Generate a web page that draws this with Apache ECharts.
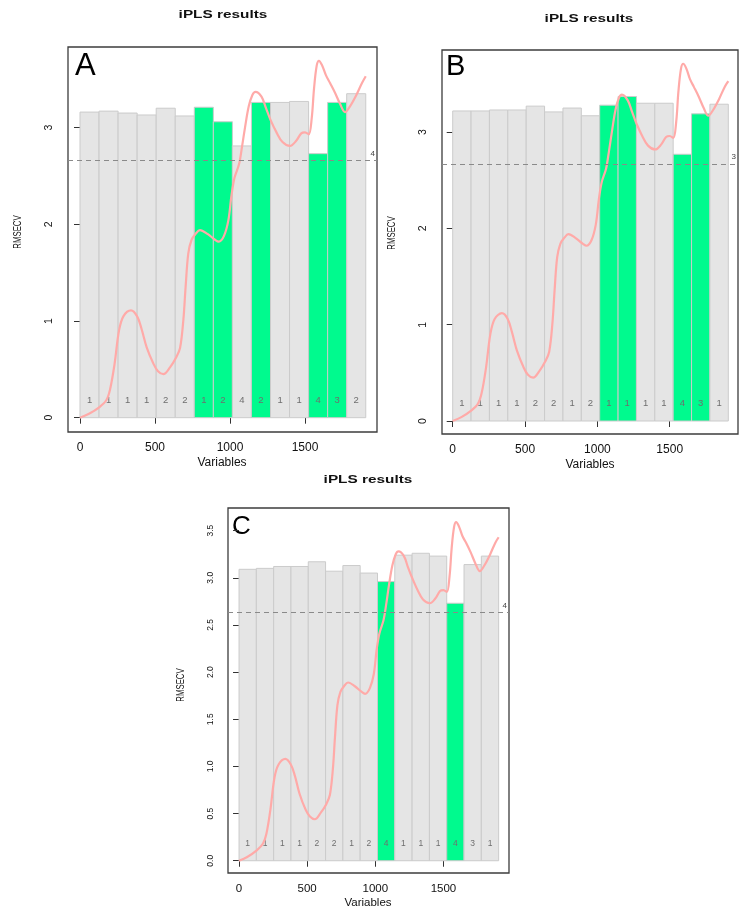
<!DOCTYPE html>
<html>
<head>
<meta charset="utf-8">
<script src="https://cdn.jsdelivr.net/npm/echarts@6/dist/echarts.min.js"></script>
<style>html,body{margin:0;padding:0;background:#fff}#c{width:750px;height:915px}</style>
</head>
<body>
<div id="c"></div>
<script>
// ---- data ----
var intervalStarts = [0,127,254,381,508,635,762,889,1016,1143,1270,1397,1524,1651,1778];
var intervalEnds   = [127,254,381,508,635,762,889,1016,1143,1270,1397,1524,1651,1778,1905];

var rmsecvA = [3.16,3.17,3.15,3.13,3.20,3.12,3.21,3.06,2.81,3.26,3.26,3.27,2.73,3.26,3.35];
var lvA     = [1,1,1,1,2,2,1,2,4,2,1,1,4,3,2];
var selA    = [7,8,10,13,14];
var globalA = 2.66, globalLvA = "4";

var rmsecvB = [3.22,3.22,3.23,3.23,3.27,3.21,3.25,3.17,3.28,3.37,3.30,3.30,2.77,3.19,3.29];
var lvB     = [1,1,1,1,2,2,1,2,1,1,1,1,4,3,1];
var selB    = [9,10,13,14];
var globalB = 2.67, globalLvB = "3";

var rmsecvC = [3.09,3.10,3.12,3.12,3.17,3.07,3.13,3.05,2.96,3.24,3.26,3.23,2.73,3.14,3.23];
var lvC     = [1,1,1,1,2,2,1,2,4,1,1,1,4,3,1];
var selC    = [9,13];
var globalC = 2.63, globalLvC = "4";

var curveX = [0,60,130,175,200,230,260,290,340,380,410,444,489,520,556,600,640,667,689,704,722,744,770,800,850,900,925,960,989,1010,1030,1060,1080,1100,1125,1150,1170,1210,1240,1270,1310,1350,1400,1440,1475,1500,1525,1545,1560,1578,1593,1615,1640,1667,1700,1735,1767,1800,1840,1880,1905];
var curveA = [0.00,0.04,0.11,0.18,0.29,0.55,0.90,1.05,1.11,1.05,0.92,0.73,0.56,0.48,0.45,0.52,0.62,0.72,1.01,1.35,1.70,1.84,1.90,1.94,1.90,1.84,1.82,1.88,2.04,2.30,2.48,2.62,2.80,3.00,3.22,3.34,3.37,3.32,3.20,3.08,2.95,2.85,2.81,2.86,2.94,2.95,2.93,3.10,3.40,3.64,3.69,3.64,3.54,3.46,3.36,3.24,3.16,3.22,3.33,3.46,3.53];
var curveB = [0.00,0.04,0.11,0.18,0.29,0.55,0.90,1.06,1.12,1.06,0.92,0.73,0.56,0.48,0.45,0.52,0.62,0.72,1.01,1.35,1.70,1.84,1.90,1.94,1.90,1.84,1.82,1.88,2.04,2.30,2.48,2.62,2.80,3.00,3.23,3.36,3.39,3.33,3.21,3.09,2.96,2.86,2.82,2.87,2.95,2.96,2.94,3.11,3.42,3.66,3.71,3.66,3.55,3.47,3.37,3.25,3.17,3.23,3.34,3.47,3.53];
var curveC = [0.00,0.04,0.11,0.18,0.28,0.54,0.88,1.02,1.08,1.02,0.90,0.71,0.54,0.47,0.44,0.51,0.60,0.70,0.98,1.31,1.65,1.79,1.85,1.89,1.85,1.79,1.77,1.83,1.98,2.24,2.41,2.55,2.72,2.92,3.13,3.25,3.28,3.23,3.11,3.00,2.87,2.77,2.73,2.78,2.86,2.87,2.85,3.02,3.31,3.54,3.59,3.54,3.44,3.37,3.27,3.15,3.07,3.13,3.24,3.37,3.43];

var xTicks = [0,500,1000,1500];
var xTickLabels = ["0","500","1000","1500"];
var yTicksAB = [0,1,2,3];
var yTickLabelsAB = ["0","1","2","3"];
var yTicksC = [0,0.5,1,1.5,2,2.5,3,3.5];
var yTickLabelsC = ["0.0","0.5","1.0","1.5","2.0","2.5","3.0","3.5"];

// ---- chart ----
var FONT = 'Liberation Sans';
var GREY = '#e5e5e5', GREEN = '#00fa8e', EDGE = '#cbcbcb';
var LABEL_LEVEL = 0.18;

function barData(vals, lv, sel) {
  return vals.map(function (v, i) {
    return [intervalStarts[i], intervalEnds[i], v, lv[i], sel.indexOf(i + 1) >= 0 ? 1 : 0];
  });
}
function curveData(ys) { return curveX.map(function (x, i) { return [x, ys[i]]; }); }
function lookup(ticks, labels) {
  return function (v) {
    for (var k = 0; k < ticks.length; k++) { if (Math.abs(ticks[k] - v) < 1e-6) return labels[k]; }
    return '';
  };
}

function renderBar(fs) {
  return function (params, api) {
    var x0 = api.value(0), x1 = api.value(1), h = api.value(2);
    var p0 = api.coord([x0, 0]), p1 = api.coord([x1, h]);
    var pl = api.coord([(x0 + x1) / 2, LABEL_LEVEL]);
    return {
      type: 'group',
      children: [
        { type: 'rect', shape: { x: p0[0], y: p1[1], width: p1[0] - p0[0], height: p0[1] - p1[1] },
          style: { fill: api.value(4) ? GREEN : GREY, stroke: EDGE, lineWidth: 1 } },
        { type: 'text', x: pl[0], y: pl[1],
          style: { text: String(api.value(3)), fill: '#6e6e6e', font: fs + 'px ' + FONT, align: 'center', verticalAlign: 'middle' } }
      ]
    };
  };
}

var grids = [
  { left: 68, top: 47, width: 309, height: 385 },
  { left: 442, top: 50, width: 296, height: 384 },
  { left: 228, top: 508, width: 281, height: 365 }
];
var xr = [[-80, 1980], [-74, 1972], [-81, 1981]];
var yr = [[-0.148, 3.833], [-0.135, 3.853], [-0.130, 3.740]];
var xFs = [12, 12, 11.5], yFs = [10.5, 10.5, 8.5];

var xAxes = [], yAxes = [], series = [];
var panels = [
  { bars: barData(rmsecvA, lvA, selA), curve: curveData(curveA), g: globalA, gl: globalLvA, yt: yTicksAB, ytl: yTickLabelsAB },
  { bars: barData(rmsecvB, lvB, selB), curve: curveData(curveB), g: globalB, gl: globalLvB, yt: yTicksAB, ytl: yTickLabelsAB },
  { bars: barData(rmsecvC, lvC, selC), curve: curveData(curveC), g: globalC, gl: globalLvC, yt: yTicksC, ytl: yTickLabelsC }
];

panels.forEach(function (p, i) {
  xAxes.push({
    gridIndex: i, type: 'value', min: xr[i][0], max: xr[i][1],
    axisLine: { show: false },
    axisTick: { show: true, length: 6, lineStyle: { color: '#333' }, customValues: xTicks },
    axisLabel: { show: true, margin: 10, fontFamily: FONT, fontSize: xFs[i], color: '#111', customValues: xTicks,
      formatter: lookup(xTicks, xTickLabels) },
    splitLine: { show: false }
  });
  yAxes.push({
    gridIndex: i, type: 'value', min: yr[i][0], max: yr[i][1],
    axisLine: { show: false },
    axisTick: { show: true, length: 6, lineStyle: { color: '#333' }, customValues: p.yt },
    axisLabel: { show: true, rotate: 90, margin: 13, fontFamily: FONT, fontSize: yFs[i], color: '#111',
      customValues: p.yt, formatter: lookup(p.yt, p.ytl) },
    splitLine: { show: false }
  });
  series.push({
    type: 'custom', xAxisIndex: i, yAxisIndex: i, renderItem: renderBar(i === 2 ? 8.5 : 9.5),
    encode: { x: [0, 1], y: 2 }, data: p.bars, z: 1, silent: true
  });
  series.push({
    type: 'line', xAxisIndex: i, yAxisIndex: i, data: p.curve, smooth: 0.35, showSymbol: false, symbol: 'none',
    lineStyle: { color: '#ffaaa8', width: 2.2 }, z: 3, silent: true,
    markLine: {
      silent: true, symbol: 'none',
      lineStyle: { color: '#8a8a8a', type: [5, 4], width: 1 },
      label: { show: true, position: 'insideEndTop', formatter: p.gl, fontFamily: FONT, fontSize: 8, color: '#444', distance: [2, 3] },
      data: [{ yAxis: p.g }]
    }
  });
});

var titleTexts = [
  { x: 223, y: 15, t: 'iPLS results' },
  { x: 589, y: 19, t: 'iPLS results' },
  { x: 368, y: 480, t: 'iPLS results' }
];
var graphics = [];
titleTexts.forEach(function (o) {
  graphics.push({ type: 'text', x: o.x, y: o.y, scaleX: 1.28, scaleY: 0.85,
    style: { text: o.t, font: 'bold 12px ' + FONT, fill: '#111', align: 'center', verticalAlign: 'middle' } });
});
[[222, 463, 12], [590, 465, 12], [368, 903, 11.5]].forEach(function (o) {
  graphics.push({ type: 'text', x: o[0], y: o[1],
    style: { text: 'Variables', font: o[2] + 'px ' + FONT, fill: '#111', align: 'center', verticalAlign: 'middle' } });
});
[[18, 232], [392, 233], [181, 685]].forEach(function (o) {
  graphics.push({ type: 'text', x: o[0], y: o[1], rotation: Math.PI / 2, scaleX: 0.78,
    style: { text: 'RMSECV', font: '10px ' + FONT, fill: '#111', align: 'center', verticalAlign: 'middle' } });
});
[[75, 66, 'A', 31], [446, 67, 'B', 29], [232, 527, 'C', 26]].forEach(function (o) {
  graphics.push({ type: 'text', x: o[0], y: o[1],
    style: { text: o[2], font: o[3] + 'px ' + FONT, fill: '#000', align: 'left', verticalAlign: 'middle' } });
});

var chart = echarts.init(document.getElementById('c'), null, { renderer: 'canvas' });
chart.setOption({
  animation: false,
  backgroundColor: '#fff',
  grid: grids.map(function (g) { return Object.assign({ show: true, borderColor: '#3c3c3c', borderWidth: 1.3, backgroundColor: 'transparent' }, g); }),
  xAxis: xAxes,
  yAxis: yAxes,
  series: series,
  graphic: graphics
});
</script>
</body>
</html>
